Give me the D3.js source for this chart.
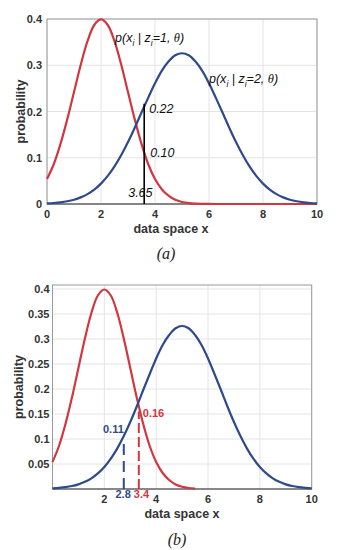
<!DOCTYPE html>
<html>
<head>
<meta charset="utf-8">
<script src="https://cdn.jsdelivr.net/npm/d3@7"></script>
<style>
  body { margin: 0; background: #fff; }
  svg { display: block; }
  .tick-label { font-family: "Liberation Sans", Arial, sans-serif; font-weight: bold; font-size: 11px; fill: #333; }
  .axis-title { font-family: "Liberation Sans", Arial, sans-serif; font-weight: bold; font-size: 12.5px; fill: #333; }
  .caption { font-family: "Liberation Serif", "Times New Roman", serif; font-style: italic; font-size: 16px; fill: #222; }
  .note { font-family: "Liberation Sans", Arial, sans-serif; font-style: italic; font-size: 12.5px; fill: #111; }
  .note-b { font-family: "Liberation Sans", Arial, sans-serif; font-weight: bold; font-size: 11px; }
</style>
</head>
<body>
<div id="chart"></div>
<script>
const xs = d3.range(0, 10.001, 0.25);
const redCurve = [
  0.054, 0.086, 0.130, 0.183, 0.242, 0.301, 0.352, 0.387, 0.399, 0.387, 0.352, 0.301,
  0.242, 0.183, 0.130, 0.086, 0.054, 0.032, 0.018, 0.009, 0.0044, 0.002, 0.0009, 0.0004,
  0.0001, 0, 0, 0, 0, 0, 0, 0, 0, 0, 0, 0, 0, 0, 0, 0, 0
];
const blueCurve = [
  0.0013, 0.0022, 0.0036, 0.0059, 0.0093, 0.0143, 0.0214, 0.0312, 0.0441, 0.0607, 0.0813, 0.1059,
  0.134, 0.165, 0.198, 0.230, 0.261, 0.288, 0.308, 0.3215, 0.326, 0.3215, 0.308, 0.288,
  0.261, 0.230, 0.198, 0.165, 0.134, 0.1059, 0.0813, 0.0607, 0.0441, 0.0312, 0.0214, 0.0143,
  0.0093, 0.0059, 0.0036, 0.0022, 0.0013
];

const xTicksA = [0, 2, 4, 6, 8, 10];
const yTicksA = [0, 0.1, 0.2, 0.3, 0.4];
const yTickLabelsA = ["0", "0.1", "0.2", "0.3", "0.4"];
const xTicksB = [2, 4, 6, 8, 10];
const yTicksB = [0.05, 0.1, 0.15, 0.2, 0.25, 0.3, 0.35, 0.4];
const yTickLabelsB = ["0.05", "0.1", "0.15", "0.2", "0.25", "0.3", "0.35", "0.4"];

// annotations: panel (a) marker and panel (b) dashed markers
const markerA = { x: 3.6, top: 0.217, label: "3.65", upper: "0.22", lower: "0.10" };
const markersB = [
  { x: 2.75, top: 0.102, label: "2.8", value: "0.11", color: "blue" },
  { x: 3.33, top: 0.155, label: "3.4", value: "0.16", color: "red" }
];
const redEndB = 5.5;

const RED = "#d2363f";
const BLUE = "#2e4a8a";
const GRID = "#e4e4e4";

const svg = d3.select("#chart").append("svg")
  .attr("width", 351)
  .attr("height", 550);

function Panel(opts) {
  this.x = d3.scaleLinear().domain([0, 10]).range([opts.left, opts.right]);
  this.y = d3.scaleLinear().domain(opts.yDomain).range([opts.bottom, opts.top]);
  this.g = svg.append("g");
  const self = this;
  const g = this.g;

  // grid
  g.selectAll("line.vgrid").data(opts.xTicks).enter().append("line")
    .attr("x1", d => self.x(d)).attr("x2", d => self.x(d))
    .attr("y1", opts.top).attr("y2", opts.bottom)
    .attr("stroke", GRID).attr("stroke-width", 1);
  g.selectAll("line.hgrid").data(opts.yTicks).enter().append("line")
    .attr("x1", opts.left).attr("x2", opts.right)
    .attr("y1", d => self.y(d)).attr("y2", d => self.y(d))
    .attr("stroke", GRID).attr("stroke-width", 1);

  // box
  g.append("rect")
    .attr("x", opts.left).attr("y", opts.top)
    .attr("width", opts.right - opts.left).attr("height", opts.bottom - opts.top)
    .attr("fill", "none").attr("stroke", "#999").attr("stroke-width", 1);
  g.append("line")
    .attr("x1", opts.left).attr("x2", opts.right)
    .attr("y1", opts.bottom).attr("y2", opts.bottom)
    .attr("stroke", "#444").attr("stroke-width", 1);

  // tick labels
  g.selectAll("text.xt").data(opts.xTicks).enter().append("text")
    .attr("class", "tick-label")
    .attr("x", d => self.x(d)).attr("y", opts.bottom + 14)
    .attr("text-anchor", "middle")
    .text(d => d);
  g.selectAll("text.yt").data(opts.yTicks).enter().append("text")
    .attr("class", "tick-label")
    .attr("x", opts.left - opts.yPad).attr("y", d => self.y(d) + 4)
    .attr("text-anchor", "end")
    .text((d, i) => opts.yLabels[i]);

  g.append("text")
    .attr("class", "axis-title")
    .attr("text-anchor", "middle")
    .attr("x", opts.xTitleX).attr("y", opts.bottom + 29)
    .text("data space x");
  g.append("text")
    .attr("class", "axis-title")
    .attr("text-anchor", "middle")
    .attr("transform", "translate(" + opts.yTitleX + "," + ((opts.top + opts.bottom) / 2) + ") rotate(-90)")
    .text("probability");
  g.append("text")
    .attr("class", "caption")
    .attr("text-anchor", "middle")
    .attr("x", opts.captionX).attr("y", opts.captionY)
    .text(opts.caption);
}

Panel.prototype.curve = function (values, color, xmax) {
  const self = this;
  const pts = xs.map((d, i) => ({ x: d, y: values[i] })).filter(d => d.x <= xmax + 1e-9);
  const line = d3.line()
    .x(d => self.x(d.x))
    .y(d => self.y(d.y))
    .curve(d3.curveCatmullRom);
  this.g.append("path")
    .attr("d", line(pts))
    .attr("fill", "none")
    .attr("stroke", color)
    .attr("stroke-width", 2.2);
};

Panel.prototype.condLabel = function (k, x, y) {
  const t = this.g.append("text")
    .attr("class", "note")
    .attr("x", this.x(x)).attr("y", this.y(y));
  t.append("tspan").text("p(x");
  t.append("tspan").attr("dy", 4).attr("font-size", 8.5).text("i");
  t.append("tspan").attr("dy", -4).text(" | z");
  t.append("tspan").attr("dy", 4).attr("font-size", 8.5).text("i");
  t.append("tspan").attr("dy", -4).text("=" + k + ", ");
  t.append("tspan").attr("font-family", "Liberation Serif, serif").text("θ");
  t.append("tspan").text(")");
};

// ---- panel (a)
const pa = new Panel({
  left: 47, right: 317, top: 19, bottom: 204,
  yDomain: [0, 0.4],
  xTicks: xTicksA, yTicks: yTicksA, yLabels: yTickLabelsA, yPad: 5, yTitleX: 25,
  xTitleX: 171, caption: "(a)", captionX: 166, captionY: 259
});
pa.curve(redCurve, RED, 10);
pa.curve(blueCurve, BLUE, 10);
pa.g.append("line")
  .attr("x1", pa.x(markerA.x)).attr("x2", pa.x(markerA.x))
  .attr("y1", pa.y(0)).attr("y2", pa.y(markerA.top))
  .attr("stroke", "#000").attr("stroke-width", 1.6);
pa.g.append("text").attr("class", "note")
  .attr("x", pa.x(markerA.x) + 5).attr("y", pa.y(0.196)).text(markerA.upper);
pa.g.append("text").attr("class", "note")
  .attr("x", pa.x(markerA.x) + 6).attr("y", pa.y(0.102)).text(markerA.lower);
pa.g.append("text").attr("class", "note")
  .attr("x", pa.x(markerA.x) - 16).attr("y", pa.y(0.015)).text(markerA.label);
pa.condLabel(1, 2.52, 0.35);
pa.condLabel(2, 6.0, 0.262);

// ---- panel (b)
const pb = new Panel({
  left: 52.5, right: 311.7, top: 285, bottom: 489,
  yDomain: [0, 0.408],
  xTicks: xTicksB, yTicks: yTicksB, yLabels: yTickLabelsB, yPad: 3, yTitleX: 23,
  xTitleX: 182, caption: "(b)", captionX: 177, captionY: 545
});
pb.curve(redCurve, RED, redEndB);
pb.curve(blueCurve, BLUE, 10);
markersB.forEach(function (m) {
  const col = m.color === "red" ? RED : BLUE;
  pb.g.append("line")
    .attr("x1", pb.x(m.x)).attr("x2", pb.x(m.x))
    .attr("y1", pb.y(0)).attr("y2", pb.y(m.top))
    .attr("stroke", col).attr("stroke-width", 2)
    .attr("stroke-dasharray", m.color === "red" ? "10,4" : "11,6");
  if (m.color === "red") {
    pb.g.append("text").attr("class", "note-b").attr("fill", col)
      .attr("x", pb.x(m.x) + 4).attr("y", pb.y(0.145)).text(m.value);
    pb.g.append("text").attr("class", "note-b").attr("fill", col)
      .attr("x", pb.x(m.x) - 5).attr("y", pb.y(0) + 9).text(m.label);
  } else {
    pb.g.append("text").attr("class", "note-b").attr("fill", col)
      .attr("text-anchor", "end")
      .attr("x", pb.x(m.x)).attr("y", pb.y(0.113)).text(m.value);
    pb.g.append("text").attr("class", "note-b").attr("fill", col)
      .attr("text-anchor", "end")
      .attr("x", pb.x(m.x) + 7).attr("y", pb.y(0) + 9).text(m.label);
  }
});
</script>
</body>
</html>
